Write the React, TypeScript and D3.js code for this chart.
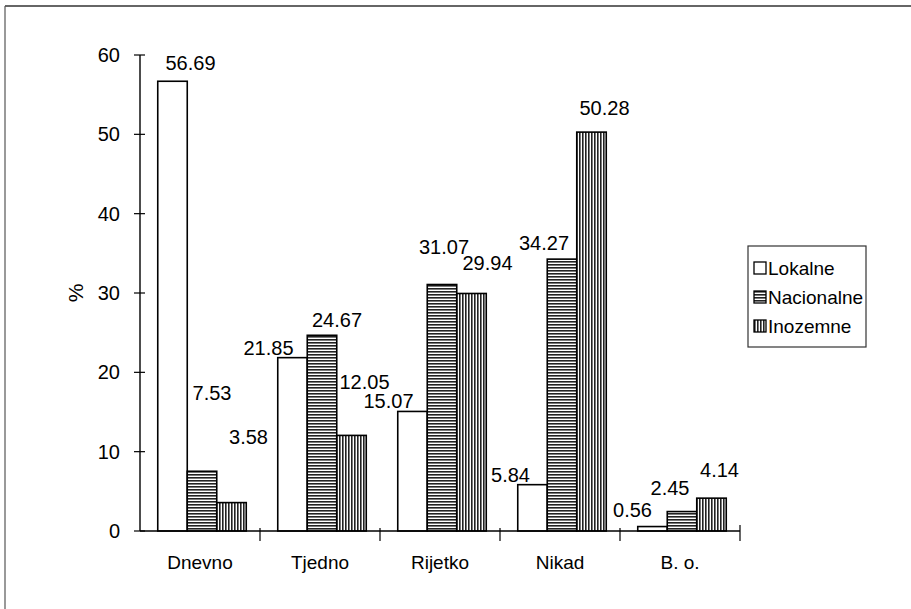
import React from "react";
import * as d3 from "d3";

const categories = ["Dnevno", "Tjedno", "Rijetko", "Nikad", "B. o."];
const seriesNames = ["Lokalne", "Nacionalne", "Inozemne"];
const lokalne = [56.69, 21.85, 15.07, 5.84, 0.56];
const nacionalne = [7.53, 24.67, 31.07, 34.27, 2.45];
const inozemne = [3.58, 12.05, 29.94, 50.28, 4.14];
const yTicks = [0, 10, 20, 30, 40, 50, 60];

// label nudges (layout only): [dx, dy] relative to bar center / bar top
const labelNudge: number[][][] = [
  [[18, -11], [10, -71], [17, -59]],
  [[-24, -3], [15, -8], [13, -46]],
  [[-24, -3], [2, -31], [16, -23]],
  [[-22, -3], [-18, -9], [13, -17]],
  [[-20, -10], [-12, -17], [8, -21]],
];

const W = 911;
const H = 609;
const M = { left: 140, right: 740, top: 55, bottom: 531 };
const FONT = "'Liberation Sans', Arial, sans-serif";

export default function App() {
  const series = [lokalne, nacionalne, inozemne];
  const fills = ["#fff", "url(#hpat)", "url(#vpat)"];
  const x = d3.scaleBand<string>().domain(categories).range([M.left, M.right]);
  const barW = 29.5;
  const y = d3.scaleLinear().domain([0, 60]).range([M.bottom, M.top]);
  const groupW = barW * 3;
  const gx = (c: string) => (x(c) as number) + (x.bandwidth() - groupW) / 2 + 2;

  return (
    <div style={{ position: "fixed", left: 0, top: 0 }}>
      <svg width={W} height={H} style={{ display: "block", background: "#fff" }} fontFamily={FONT}>
        <defs>
          <pattern id="hpat" width="4" height="3" patternUnits="userSpaceOnUse">
            <rect width="4" height="3" fill="#fff" />
            <rect y="0" width="4" height="1.6" fill="#222" />
          </pattern>
          <pattern id="vpat" width="3" height="4" patternUnits="userSpaceOnUse">
            <rect width="3" height="4" fill="#fff" />
            <rect x="0" width="1.6" height="4" fill="#222" />
          </pattern>
        </defs>
        {/* page border */}
        <line x1={5} y1={6} x2={W} y2={6} stroke="#333" strokeWidth={1.5} />
        <line x1={5} y1={6} x2={5} y2={H} stroke="#555" strokeWidth={1.2} />

        {/* bars */}
        {categories.map((c, ci) => {
          const x0 = gx(c);
          return series.map((s, si) => {
            const v = s[ci];
            const bx = x0 + si * barW;
            return (
              <rect key={c + si} x={bx} y={y(v)} width={barW} height={y(0) - y(v)}
                fill={fills[si]} stroke="#000" strokeWidth={1.6} />
            );
          });
        })}

        {/* labels */}
        {categories.map((c, ci) => {
          const x0 = gx(c);
          return series.map((s, si) => {
            const v = s[ci];
            const cx = x0 + si * barW + barW / 2;
            const [dx, dy] = labelNudge[ci][si];
            return (
              <text key={"l" + c + si} x={cx + dx} y={y(v) + dy} textAnchor="middle" fontSize={20} fill="#000">
                {v.toFixed(2)}
              </text>
            );
          });
        })}

        {/* y axis */}
        <line x1={M.left} y1={M.top} x2={M.left} y2={M.bottom} stroke="#000" strokeWidth={1.4} />
        {yTicks.map((t) => (
          <g key={t}>
            <line x1={M.left - 6} x2={M.left + 5} y1={y(t)} y2={y(t)} stroke="#000" strokeWidth={1.2} />
            <text x={M.left - 20} y={y(t) + 7} textAnchor="end" fontSize={20} fill="#000">{t}</text>
          </g>
        ))}
        <text transform={`translate(83, ${(M.top + M.bottom) / 2}) rotate(-90)`} textAnchor="middle" fontSize={21} fill="#000">%</text>

        {/* x axis */}
        <line x1={M.left} y1={M.bottom} x2={M.right} y2={M.bottom} stroke="#000" strokeWidth={1.4} />
        {categories.map((c, ci) => (
          <g key={"x" + c}>
            {ci > 0 && <line x1={x(c) as number} x2={x(c) as number} y1={M.bottom - 3} y2={M.bottom + 10} stroke="#000" strokeWidth={1.2} />}
            <text x={(x(c) as number) + x.bandwidth() / 2} y={M.bottom + 38} textAnchor="middle" fontSize={19} fill="#000">{c}</text>
          </g>
        ))}
        <line x1={M.right} x2={M.right} y1={M.bottom - 6} y2={M.bottom + 10} stroke="#000" strokeWidth={1.2} />

        {/* legend */}
        <g transform="translate(748, 246)">
          <rect x={0} y={0} width={118} height={101} fill="#fff" stroke="#333" strokeWidth={1.2} />
          {seriesNames.map((n, i) => (
            <g key={n} transform={`translate(6, ${16 + i * 29})`}>
              <rect x={0} y={0} width={12} height={12} fill={fills[i]} stroke="#000" strokeWidth={1.3} />
              <text x={14} y={12.5} fontSize={19} fill="#000">{n}</text>
            </g>
          ))}
        </g>
      </svg>
    </div>
  );
}
